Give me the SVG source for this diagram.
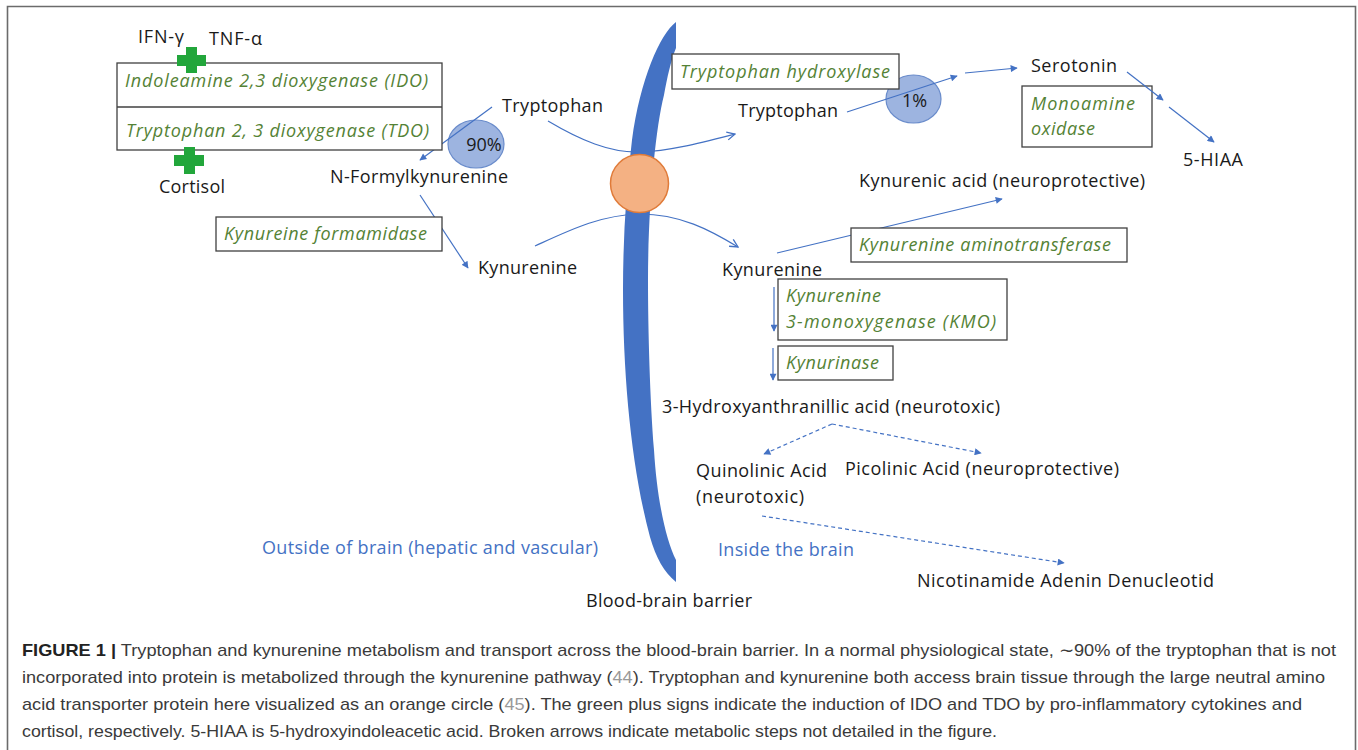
<svg xmlns="http://www.w3.org/2000/svg" width="1358" height="750" viewBox="0 0 1358 750">
<style>
.t{font-family:"Open Sans","Noto Sans",sans-serif;font-size:18px;fill:#1a1a1a}
.g{font-style:italic;fill:#548235}
.bl{fill:#4472C4}
.box{fill:#fff;stroke:#404040;stroke-width:1.3}
.ln{stroke:#4472C4;stroke-width:1.2;fill:none}
.dash{stroke-dasharray:4 3}
.ell{fill:#9DB4E0;stroke:#6A8CCB;stroke-width:1.2}
.plus{fill:#22A63B}
.cap{font-family:"Liberation Sans",Arial,sans-serif;font-size:17px;fill:#3a3a3a}
.frame{stroke:#6b6b6b;stroke-width:1.6;fill:none}
</style>
<defs>
<marker id="tri" viewBox="0 0 10 10" refX="9" refY="5" markerWidth="8" markerHeight="7" markerUnits="userSpaceOnUse" orient="auto">
<path d="M0,0 L10,5 L0,10 z" fill="#4472C4"/>
</marker>
<marker id="chev" viewBox="0 0 10 10" refX="9" refY="5" markerWidth="11" markerHeight="10" markerUnits="userSpaceOnUse" orient="auto">
<path d="M1,1 L9,5 L1,9" fill="none" stroke="#4472C4" stroke-width="1.3"/>
</marker>
</defs>
<rect width="1358" height="750" fill="#fff"/>
<path class="frame" d="M7.5,750 L7.5,6.5 L1355.5,6.5 L1355.5,750"/>

<g id="ellipse-90"><ellipse class="ell" cx="476" cy="144" rx="28" ry="24"/></g>
<g id="ellipse-1"><ellipse class="ell" cx="913.5" cy="99" rx="27.5" ry="24"/></g>
<g id="box-mao">
<rect class="box" x="1022" y="86" width="130" height="61"/>
<text class="t g" x="1031" y="110" textLength="104">Monoamine</text>
<text class="t g" x="1031" y="135" textLength="64">oxidase</text>
</g>

<g id="connectors">
<line class="ln" x1="492" y1="107" x2="420" y2="160" marker-end="url(#tri)"/>
<line class="ln" x1="420" y1="195" x2="468" y2="268" marker-end="url(#tri)"/>
<path class="ln" d="M548,121 C580,140 610,153 640,152 C670,151 700,143 735,134" marker-end="url(#chev)"/>
<path class="ln" d="M535,246 C570,230 600,215 640,214 C680,214 710,230 738,247" marker-end="url(#chev)"/>
<line class="ln" x1="847" y1="112" x2="957" y2="76" marker-end="url(#tri)"/>
<line class="ln" x1="965" y1="73" x2="1017" y2="68" marker-end="url(#tri)"/>
<line class="ln" x1="1127" y1="72" x2="1163" y2="100" marker-end="url(#tri)"/>
<line class="ln" x1="1169" y1="107" x2="1214" y2="142" marker-end="url(#tri)"/>
<line class="ln" x1="777" y1="253" x2="1002" y2="199" marker-end="url(#tri)"/>
<line class="ln" x1="774" y1="287" x2="774" y2="331" marker-end="url(#tri)"/>
<line class="ln" x1="773" y1="348" x2="773" y2="380" marker-end="url(#tri)"/>
<line class="ln dash" x1="832" y1="424" x2="764" y2="454" marker-end="url(#tri)"/>
<line class="ln dash" x1="832" y1="424" x2="981" y2="453" marker-end="url(#tri)"/>
<line class="ln dash" x1="762" y1="516" x2="1064" y2="563" marker-end="url(#tri)"/>
</g>

<g id="barrier">
<path fill="#4472C4" d="M676,22 C660,34 640,80 632,140 C626,190 623,240 623,290 C623,380 632,470 650,537 C656,558 664,572 676,582 L676,560 C666,540 657,500 654,450 C650,400 648,330 648,280 C648,210 655,130 664,95 C667,78 671,60 676,48 Z"/>
</g>
<g id="transporter"><circle cx="639.5" cy="183.5" r="29" fill="#F4B183" stroke="#E07B39" stroke-width="1.5"/></g>

<g id="ifn"><text class="t" x="138" y="43" font-size="17" textLength="46">IFN-γ</text></g>
<g id="tnf"><text class="t" x="209" y="45" font-size="17" textLength="53">TNF-α</text></g>
<g id="box-ido-tdo">
<rect class="box" x="117" y="63" width="325" height="87"/>
<line x1="117" y1="107" x2="442" y2="107" stroke="#404040" stroke-width="1.3"/>
<text class="t g" x="125" y="87" textLength="303">Indoleamine 2,3 dioxygenase (IDO)</text>
<text class="t g" x="126" y="137" textLength="303">Tryptophan 2, 3 dioxygenase (TDO)</text>
</g>
<g id="plus-top"><path class="plus" d="M186,47 h11 v8 h9 v11 h-9 v7 h-11 v-7 h-9 v-11 h9 z"/></g>
<g id="plus-bottom"><path class="plus" d="M184,147 h11 v8 h9 v11 h-9 v8 h-11 v-8 h-10 v-11 h10 z"/></g>
<g id="cortisol"><text class="t" x="159" y="193" textLength="66">Cortisol</text></g>
<g id="trp-out"><text class="t" x="502" y="112" textLength="101">Tryptophan</text></g>
<g id="pct-90"><text class="t" x="484" y="151" text-anchor="middle" font-size="17">90%</text></g>
<g id="nfk"><text class="t" x="330" y="183" textLength="178">N-Formylkynurenine</text></g>
<g id="box-kf">
<rect class="box" x="216" y="217" width="226" height="34"/>
<text class="t g" x="224" y="240" textLength="203">Kynureine formamidase</text>
</g>
<g id="kyn-out"><text class="t" x="478" y="274" textLength="99">Kynurenine</text></g>

<g id="box-th">
<rect class="box" x="672" y="54" width="227" height="35"/>
<text class="t g" x="680" y="78" textLength="210">Tryptophan hydroxylase</text>
</g>
<g id="trp-in"><text class="t" x="738" y="117" textLength="100">Tryptophan</text></g>
<g id="pct-1"><text class="t" x="914.5" y="107" text-anchor="middle" font-size="17">1%</text></g>
<g id="serotonin"><text class="t" x="1031" y="72" textLength="86">Serotonin</text></g>
<g id="hiaa"><text class="t" x="1183" y="166" textLength="60">5-HIAA</text></g>
<g id="kyna"><text class="t" x="859" y="187" textLength="286">Kynurenic acid (neuroprotective)</text></g>
<g id="box-kat">
<rect class="box" x="851" y="228" width="276" height="34"/>
<text class="t g" x="859" y="251" textLength="252">Kynurenine aminotransferase</text>
</g>
<g id="kyn-in"><text class="t" x="722" y="276" textLength="100">Kynurenine</text></g>
<g id="box-kmo">
<rect class="box" x="778" y="279" width="229" height="61"/>
<text class="t g" x="786" y="302" textLength="95">Kynurenine</text>
<text class="t g" x="786" y="328" textLength="210">3-monoxygenase  (KMO)</text>
</g>
<g id="box-kynu">
<rect class="box" x="778" y="346" width="115" height="34"/>
<text class="t g" x="786" y="369" textLength="93">Kynurinase</text>
</g>
<g id="haa"><text class="t" x="662" y="413" textLength="338">3-Hydroxyanthranillic acid (neurotoxic)</text></g>
<g id="quin">
<text class="t" x="696" y="477" textLength="131">Quinolinic Acid</text>
<text class="t" x="696" y="503" textLength="108">(neurotoxic)</text>
</g>
<g id="pic"><text class="t" x="845" y="475" textLength="274">Picolinic Acid (neuroprotective)</text></g>
<g id="outside"><text class="t bl" x="262" y="554" textLength="336">Outside of brain (hepatic and vascular)</text></g>
<g id="inside"><text class="t bl" x="718" y="556" textLength="136">Inside the brain</text></g>
<g id="nad"><text class="t" x="917" y="587" textLength="297">Nicotinamide Adenin Denucleotid</text></g>
<g id="bbb-label"><text class="t" x="586" y="607" textLength="166">Blood-brain barrier</text></g>

<g id="caption">
<text class="cap" x="22" y="656" textLength="1314" lengthAdjust="spacingAndGlyphs"><tspan font-weight="bold" fill="#222">FIGURE 1 |</tspan> Tryptophan and kynurenine metabolism and transport across the blood-brain barrier. In a normal physiological state, ∼90% of the tryptophan that is not</text>
<text class="cap" x="22" y="683" textLength="1303" lengthAdjust="spacingAndGlyphs">incorporated into protein is metabolized through the kynurenine pathway (<tspan fill="#999">44</tspan>). Tryptophan and kynurenine both access brain tissue through the large neutral amino</text>
<text class="cap" x="22" y="710" textLength="1280" lengthAdjust="spacingAndGlyphs">acid transporter protein here visualized as an orange circle (<tspan fill="#999">45</tspan>). The green plus signs indicate the induction of IDO and TDO by pro-inflammatory cytokines and</text>
<text class="cap" x="22" y="737" textLength="975" lengthAdjust="spacingAndGlyphs">cortisol, respectively. 5-HIAA is 5-hydroxyindoleacetic acid. Broken arrows indicate metabolic steps not detailed in the figure.</text>
</g>
</svg>
